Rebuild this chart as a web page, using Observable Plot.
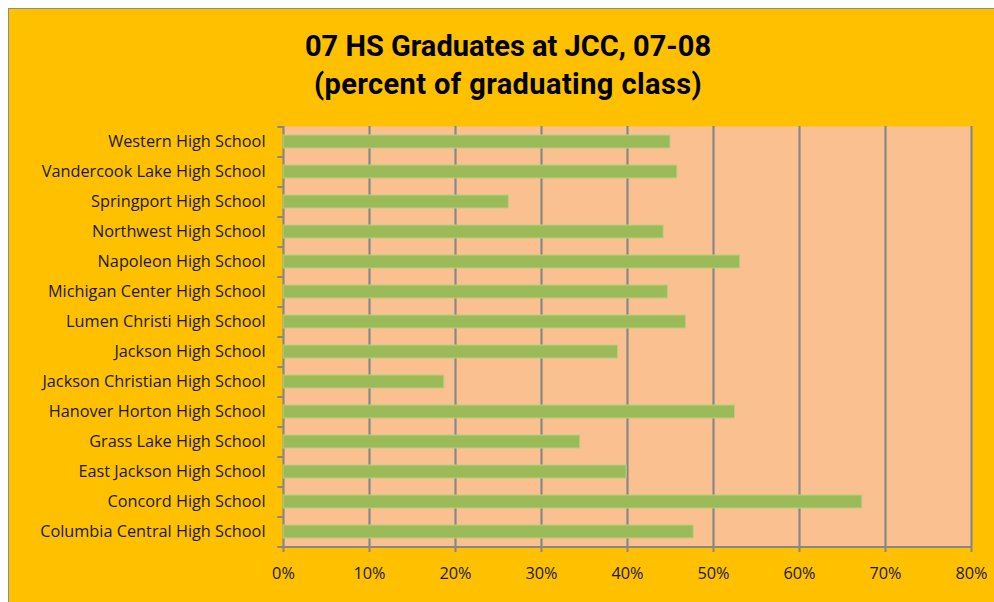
<!DOCTYPE html>
<html>
<head>
<meta charset="utf-8">
<script src="https://cdn.jsdelivr.net/npm/d3@7"></script>
<script src="https://cdn.jsdelivr.net/npm/@observablehq/plot@0.6"></script>
<style>
  html, body { margin: 0; padding: 0; background: #fff; width: 994px; height: 602px; overflow: hidden; }
  #frame { position: absolute; left: 8px; top: 8px; width: 1000px; height: 620px; background: #FFC000; border: 1px solid #8c8c8c; box-sizing: border-box; }
  #title { position: absolute; left: 0; top: 27px; width: 1016px; text-align: center; font-family: "Roboto", sans-serif; font-weight: bold; font-size: 29px; line-height: 38px; color: #000; }
  #title .l2 { letter-spacing: 0.4px; }
  #chart { position: absolute; left: 0; top: 100px; }
</style>
</head>
<body>
<div id="frame"></div>
<div id="title">07 HS Graduates at JCC, 07-08<br><span class="l2">(percent of graduating class)</span></div>
<div id="chart"></div>
<script>
const schools = [
  "Western High School",
  "Vandercook Lake High School",
  "Springport High School",
  "Northwest High School",
  "Napoleon High School",
  "Michigan Center High School",
  "Lumen Christi High School",
  "Jackson High School",
  "Jackson Christian High School",
  "Hanover Horton High School",
  "Grass Lake High School",
  "East Jackson High School",
  "Concord High School",
  "Columbia Central High School"
];
const percents = [0.450, 0.458, 0.262, 0.442, 0.531, 0.447, 0.468, 0.389, 0.187, 0.525, 0.345, 0.399, 0.673, 0.477];
const xTicks = [0, 0.1, 0.2, 0.3, 0.4, 0.5, 0.6, 0.7, 0.8];

const data = schools.map((s, i) => ({school: s, value: percents[i]}));
const grid = "#878787";

const chart = Plot.plot({
  width: 994,
  height: 502,
  marginLeft: 283,
  marginRight: 23,
  marginTop: 26,
  marginBottom: 56,
  style: {fontFamily: "'Open Sans', sans-serif", fontSize: "16.3px", color: "#1a1a1a", background: "transparent"},
  x: {domain: [0, 0.8]},
  y: {domain: schools, paddingInner: 0.58, paddingOuter: 0.29},
  marks: [
    Plot.frame({fill: "#FAC090", stroke: null}),
    Plot.ruleX(xTicks, {stroke: grid, strokeWidth: 2.2}),
    Plot.barX(data, {x: "value", y: "school", fill: "#9BBB59", stroke: "#B9CF7E", strokeWidth: 1}),
    Plot.ruleY(schools, {y: d => d, dy: -15, x1: -0.0065, x2: 0, stroke: grid, strokeWidth: 2}),
    Plot.ruleY(schools.slice(-1), {y: d => d, dy: 15, x1: -0.0065, x2: 0.8, stroke: grid, strokeWidth: 2.2}),
    Plot.axisX({ticks: xTicks, tickFormat: d3.format(".0%"), tickSize: 6, tickPadding: 15, stroke: grid, strokeWidth: 2, fontSize: 16.3, label: null}),
    Plot.axisY({tickSize: 0, tickPadding: 18, fontSize: 16.3, label: null})
  ]
});
document.getElementById("chart").appendChild(chart);
</script>
</body>
</html>
